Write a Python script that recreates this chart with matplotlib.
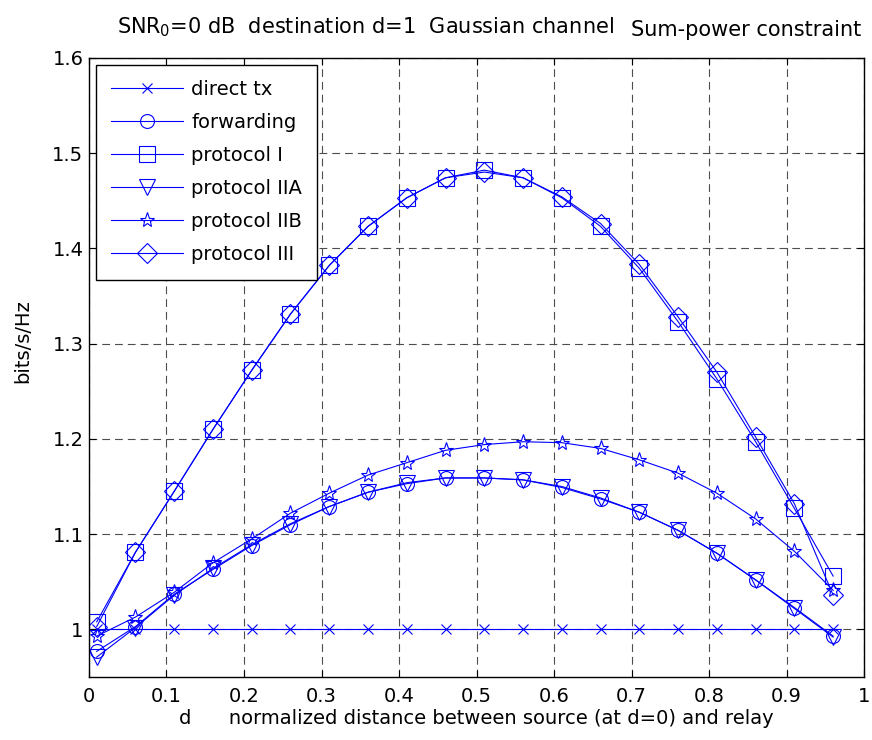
import numpy as np
import matplotlib.pyplot as plt

plt.rcParams['font.family'] = ['DejaVu Sans']

# relay position (normalized distance from source)
d = [0.01, 0.06, 0.11, 0.16, 0.21, 0.26, 0.31, 0.36, 0.41, 0.46,
     0.51, 0.56, 0.61, 0.66, 0.71, 0.76, 0.81, 0.86, 0.91, 0.96]

direct_tx = [1.0] * 20
forwarding = [0.977, 1.003, 1.037, 1.063, 1.088, 1.110, 1.129, 1.144, 1.153, 1.159,
              1.159, 1.157, 1.149, 1.137, 1.123, 1.104, 1.080, 1.052, 1.023, 0.993]
protocol_I = [1.008, 1.081, 1.145, 1.210, 1.272, 1.331, 1.382, 1.423, 1.453, 1.474,
              1.482, 1.474, 1.453, 1.423, 1.379, 1.323, 1.263, 1.197, 1.127, 1.056]
protocol_IIA = [0.971, 1.002, 1.036, 1.064, 1.089, 1.111, 1.129, 1.144, 1.154, 1.159,
                1.159, 1.157, 1.150, 1.138, 1.123, 1.104, 1.080, 1.052, 1.022, 0.992]
protocol_IIB = [0.993, 1.013, 1.039, 1.070, 1.095, 1.122, 1.143, 1.162, 1.175, 1.188,
                1.194, 1.197, 1.196, 1.190, 1.178, 1.164, 1.143, 1.116, 1.082, 1.041]
protocol_III = [1.003, 1.081, 1.145, 1.210, 1.272, 1.331, 1.382, 1.423, 1.453, 1.474,
                1.480, 1.474, 1.454, 1.426, 1.383, 1.328, 1.270, 1.202, 1.132, 1.036]

series = [
    ('direct tx', direct_tx, 'x', 7),
    ('forwarding', forwarding, 'o', 10),
    ('protocol I', protocol_I, 's', 11),
    ('protocol IIA', protocol_IIA, 'v', 11),
    ('protocol IIB', protocol_IIB, '*', 11),
    ('protocol III', protocol_III, 'D', 10),
]

fig = plt.figure(figsize=(8.72, 7.40), dpi=100)
ax = fig.add_axes([0.102, 0.085, 0.889, 0.837])

for label, vals, mk, ms in series:
    ax.plot(d, vals, color='blue', lw=0.8, marker=mk, ms=ms,
            mfc='none', mec='blue', mew=0.8, label=label)

ax.set_xlim(0, 1)
ax.set_ylim(0.95, 1.6)
ax.set_xticks(np.arange(0, 1.01, 0.1))
ax.set_xticklabels(['0', '0.1', '0.2', '0.3', '0.4', '0.5', '0.6', '0.7', '0.8', '0.9', '1'])
ax.set_yticks([1.0, 1.1, 1.2, 1.3, 1.4, 1.5, 1.6])
ax.set_yticklabels(['1', '1.1', '1.2', '1.3', '1.4', '1.5', '1.6'])
ax.tick_params(direction='in', top=True, right=True, labelsize=14, length=5)
ax.tick_params(axis='x', pad=7)
ax.tick_params(axis='y', pad=4)
ax.grid(True, color='0.3', linestyle=(0, (7, 4.5)), lw=0.8)
for s in ax.spines.values():
    s.set_linewidth(1.0)

ax.set_xlabel('d      normalized distance between source (at d=0) and relay', fontsize=14,
              labelpad=2)
ax.set_ylabel('bits/s/Hz', fontsize=14)
ax.yaxis.set_label_coords(-0.073, 0.543)

fig.text(0.134, 0.955, 'SNR$_0$=0 dB  destination d=1  Gaussian channel', fontsize=15,
         va='baseline', ha='left')
fig.text(0.724, 0.951, 'Sum-power constraint', fontsize=15, va='baseline', ha='left')

leg = ax.legend(loc='upper left', fontsize=14, handlelength=3.7, handletextpad=0.4,
                fancybox=False, edgecolor='black', framealpha=1, borderpad=0.8,
                labelspacing=0.72, borderaxespad=0.35)
leg.get_frame().set_linewidth(1.0)

fig.savefig('out.png', dpi=100)
